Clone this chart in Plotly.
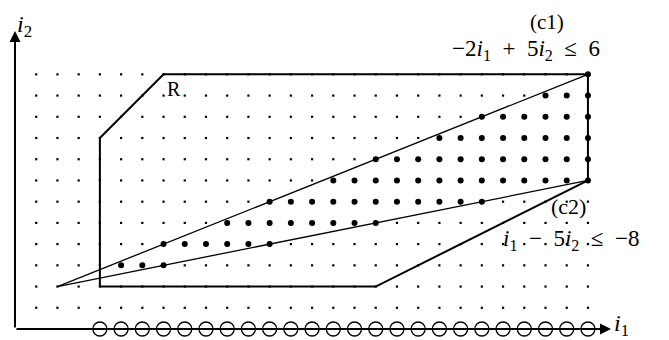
import plotly.graph_objects as go

# ---------------- data ----------------
grid_i1 = list(range(1, 28))          # lattice columns
grid_i2 = list(range(1, 13))          # lattice rows
axis_circle_i1 = list(range(4, 28))   # open circles on the i1 axis

# filled (integer) points: per row i2, range of i1
filled_i2 = [3, 4, 5, 6, 7, 8, 9, 10, 11, 12]
filled_i1_start = [5, 7, 10, 12, 15, 17, 20, 22, 25, 27]
filled_i1_end = [7, 12, 17, 22, 27, 27, 27, 27, 27, 27]

# region R polygon
R_i1 = [4, 4, 7, 27, 27, 17, 4]
R_i2 = [2, 9, 12, 12, 7, 2, 2]

# constraint lines
c1_i1 = [2, 27]
c1_i2 = [2, 12]
c2_i1 = [2, 27]
c2_i2 = [2, 7]

# ---------------- geometry ----------------
OFF = 8            # page body margin
W, H = 669 - OFF, 340 - OFF
S = 21.22          # px per unit
OX, OY = 15, 329   # pixel position of origin (window coords)


def dx(px):
    return (px - OX) / S


def dy(py):
    return (OY - py) / S


filled = set()
for r, a, b in zip(filled_i2, filled_i1_start, filled_i1_end):
    for c in range(a, b + 1):
        filled.add((c, r))

small_x, small_y = [], []
for r in grid_i2:
    for c in grid_i1:
        if (c, r) not in filled:
            small_x.append(c)
            small_y.append(r)
fx = [p[0] for p in sorted(filled)]
fy = [p[1] for p in sorted(filled)]

fig = go.Figure()
fig.add_trace(go.Scatter(x=small_x, y=small_y, mode="markers",
                         marker=dict(symbol="square", size=2.2, color="black"),
                         hoverinfo="skip"))
fig.add_trace(go.Scatter(x=axis_circle_i1, y=[0] * len(axis_circle_i1), mode="markers",
                         marker=dict(symbol="circle-open", size=14, color="black",
                                     line=dict(width=1.3, color="black")),
                         hoverinfo="skip"))
fig.add_trace(go.Scatter(x=R_i1, y=R_i2, mode="lines",
                         line=dict(color="black", width=2.0), hoverinfo="skip"))
fig.add_trace(go.Scatter(x=c1_i1, y=c1_i2, mode="lines",
                         line=dict(color="black", width=1.3), hoverinfo="skip"))
fig.add_trace(go.Scatter(x=c2_i1, y=c2_i2, mode="lines",
                         line=dict(color="black", width=1.3), hoverinfo="skip"))
fig.add_trace(go.Scatter(x=fx, y=fy, mode="markers",
                         marker=dict(symbol="circle", size=6, color="black"),
                         hoverinfo="skip"))

FONT = "Liberation Serif, Times New Roman, Times, serif"
annos = []
# axes arrows
annos.append(dict(x=dx(611), y=0, ax=0, ay=0, xref="x", yref="y", axref="x", ayref="y",
                  showarrow=True, arrowhead=2, arrowsize=1.1, arrowwidth=2.0,
                  arrowcolor="black", text=""))
annos.append(dict(x=0, y=dy(31), ax=0, ay=0, xref="x", yref="y", axref="x", ayref="y",
                  showarrow=True, arrowhead=2, arrowsize=1.1, arrowwidth=2.0,
                  arrowcolor="black", text=""))


def label(px, py, txt, size=24):
    annos.append(dict(x=dx(px), y=dy(py), xref="x", yref="y", text=txt,
                      showarrow=False, xanchor="center", yanchor="middle",
                      borderpad=0,
                      font=dict(family=FONT, size=size, color="black")))


SP = "\u2002"
label(24, 26, "<i>i</i><sub>2</sub>")
label(621, 325, "<i>i</i><sub>1</sub>")
label(174, 89, "R", 20)
label(547, 22, "(c1)", 21)
label(526, 50, f"−2<i>i</i><sub>1</sub>{SP}+{SP}5<i>i</i><sub>2</sub>{SP}≤{SP}6", 23)
label(568, 206, "(c2)", 22)
label(571, 240, f"<i>i</i><sub>1</sub>{SP}−{SP}5<i>i</i><sub>2</sub>{SP}≤{SP}−8", 23)

fig.update_layout(
    width=W, height=H,
    margin=dict(l=0, r=0, t=0, b=0),
    paper_bgcolor="white", plot_bgcolor="white",
    showlegend=False,
    annotations=annos,
    xaxis=dict(visible=False, range=[dx(OFF), dx(OFF + W)], fixedrange=True),
    yaxis=dict(visible=False, range=[dy(OFF + H), dy(OFF)], fixedrange=True),
)
fig.write_html("out.html")
